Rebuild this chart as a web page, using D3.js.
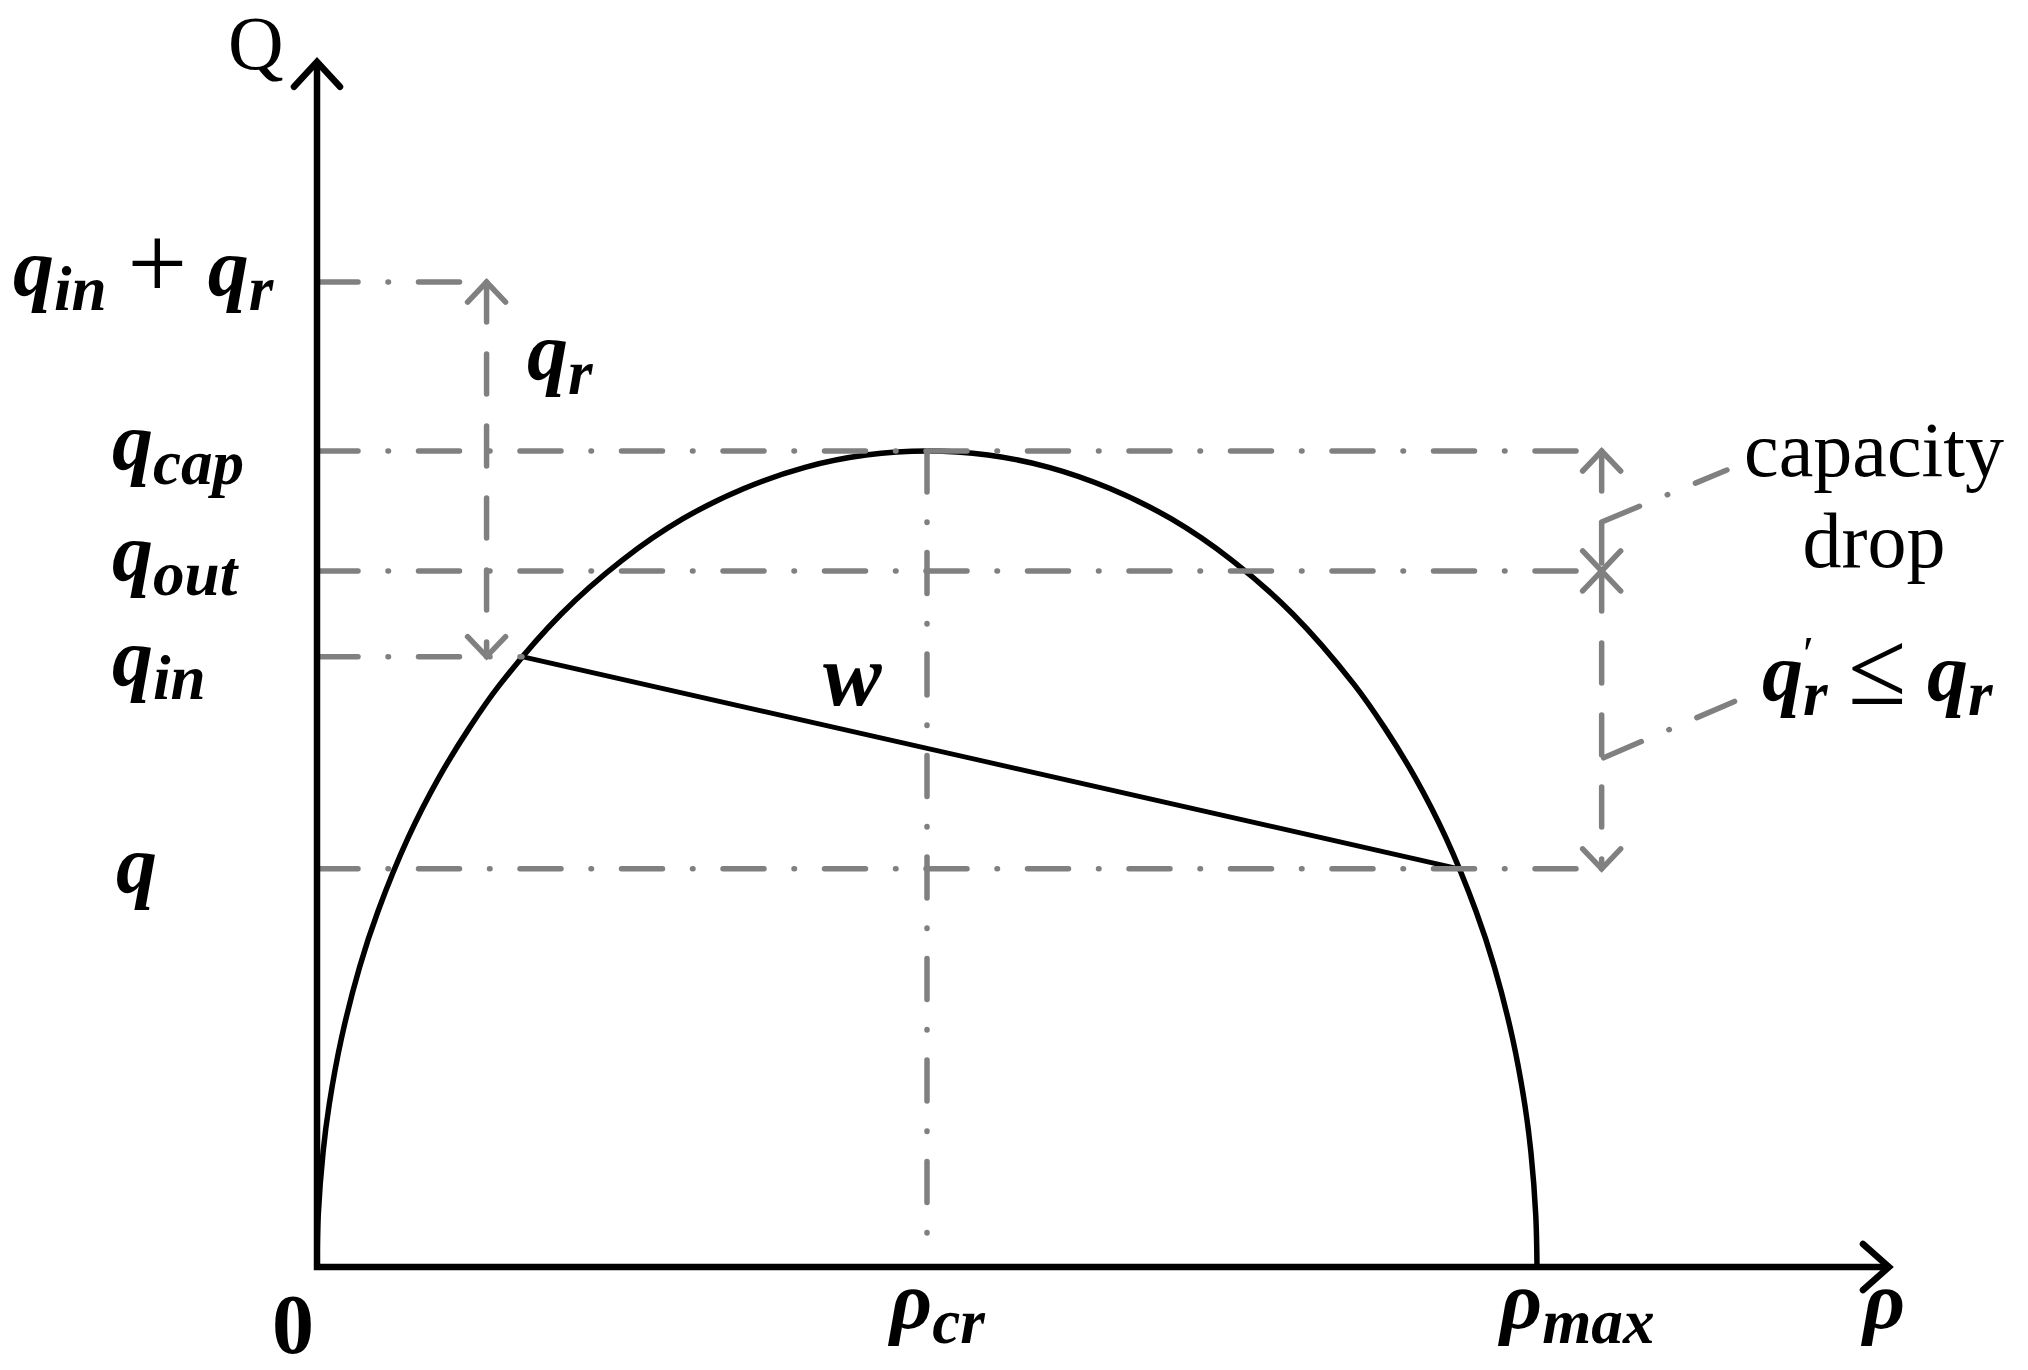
<!DOCTYPE html>
<html lang="en">

<head>
    <title>Flow-density diagram</title>
    <meta charset="UTF-8">
    <script src="https://cdn.jsdelivr.net/npm/d3@7"></script>
    <style>
        body {
            margin: 0;
            background: #fff;
        }

        svg {
            display: block;
        }

        text {
            font-family: "Liberation Serif", "Times New Roman", serif;
            white-space: pre;
        }
    </style>
</head>

<body>
    <div id="wrap"></div>
    <script>
        // flow-density curve (rho / rho_max , Q / q_cap)
        var curveRho = [0, 0.001, 0.005, 0.01, 0.02, 0.035, 0.05, 0.075, 0.1, 0.125, 0.15, 0.2, 0.25, 0.3, 0.35, 0.4, 0.45, 0.5,
            0.55, 0.6, 0.65, 0.7, 0.75, 0.8, 0.85, 0.875, 0.9, 0.925, 0.95, 0.965, 0.98, 0.99, 0.995, 0.999, 1
        ];
        var curveQ = [0, 0.063, 0.141, 0.199, 0.28, 0.368, 0.436, 0.527, 0.6, 0.661, 0.714, 0.8, 0.866, 0.917, 0.954, 0.98, 0.995, 1,
            0.995, 0.98, 0.954, 0.917, 0.866, 0.8, 0.714, 0.661, 0.6, 0.527, 0.436, 0.368, 0.28, 0.199, 0.141, 0.063, 0
        ];

        // flow levels on the Q axis
        var flowLabels = ['q_{in} + q_{r}', 'q_{cap}', 'q_{out}', 'q_{in}', 'q'];
        var flowValues = [1.207, 1.0, 0.853, 0.748, 0.488];

        // density marks on the rho axis
        var densityLabels = ['0', 'ρ_{cr}', 'ρ_{max}', 'ρ'];
        var densityValues = [0, 0.5, 1, 1.2885];

        // shock wave w : from q_in (left branch) to q (right branch)
        var waveRho = [0.168, 0.936];
        var waveQ = [0.748, 0.488];

        // where the arrows stand
        var qrArrowRho = 0.139;
        var dropArrowRho = 1.053;

        //常量
        var WIDTH = 2028,
            HEIGHT = 1370,
            RHOEND = 1.2885,
            QEND = 1.477,
            GREY = '#808080',
            DASHDOT = '41,30,0.5,30',
            DASH = '40,32',
            SIZE = 82;
        // small per-label nudges (layout only)
        var FLOWLABEL_X = [13, 112, 112, 112, 116];
        var FLOWLABEL_DY = [13, 18, 9, 28, 23];

        var x = d3.scaleLinear().domain([0, 1]).range([317, 1537]);
        var y = d3.scaleLinear().domain([0, 1]).range([1267, 451]);

        var svg = d3.select('#wrap').append('svg').attr('width', WIDTH).attr('height', HEIGHT);
        svg.append('rect').attr('width', WIDTH).attr('height', HEIGHT).attr('fill', '#fff');

        //曲线
        var curveData = curveRho.map(function(r, i) {
            return [r, curveQ[i]];
        });
        var line = d3.line()
            .x(function(d) { return x(d[0]); })
            .y(function(d) { return y(d[1]); })
            .curve(d3.curveCatmullRom.alpha(0.5));
        svg.append('path')
            .attr('d', line(curveData))
            .attr('fill', 'none')
            .attr('stroke', '#000')
            .attr('stroke-width', 5.5);

        // w line
        svg.append('line')
            .attr('x1', x(waveRho[0])).attr('y1', y(waveQ[0]))
            .attr('x2', x(waveRho[1])).attr('y2', y(waveQ[1]))
            .attr('stroke', '#000')
            .attr('stroke-width', 4.8);

        //辅助线
        var guideEnd = [qrArrowRho, dropArrowRho, dropArrowRho, waveRho[0], dropArrowRho];
        var guides = svg.append('g')
            .attr('stroke', GREY)
            .attr('stroke-width', 5.5)
            .attr('stroke-linecap', 'round')
            .attr('fill', 'none');
        guides.selectAll('line.h')
            .data(flowValues)
            .enter()
            .append('line')
            .attr('class', 'h')
            .attr('x1', x(0))
            .attr('x2', function(d, i) { return x(guideEnd[i]); })
            .attr('y1', function(d) { return y(d); })
            .attr('y2', function(d) { return y(d); })
            .attr('stroke-dasharray', DASHDOT);
        guides.append('line')
            .attr('x1', x(densityValues[1])).attr('x2', x(densityValues[1]))
            .attr('y1', y(1)).attr('y2', y(0) - 20)
            .attr('stroke-dasharray', DASHDOT);

        // leader lines to the notes
        guides.append('line')
            .attr('x1', x(dropArrowRho)).attr('y1', y(0.913))
            .attr('x2', x(1.1557)).attr('y2', y(0.9767))
            .attr('stroke-dasharray', DASHDOT);
        guides.append('line')
            .attr('x1', x(dropArrowRho) + 2).attr('y1', y(0.624))
            .attr('x2', x(1.1664)).attr('y2', y(0.696))
            .attr('stroke-dasharray', DASHDOT);

        //箭头
        function head(g, px, py, dir, w, h) {
            g.append('path')
                .attr('d', 'M' + (px - w) + ',' + (py + dir * h) + 'L' + px + ',' + py + 'L' + (px + w) + ',' + (py + dir * h));
        }

        function vArrow(rho, qTop, qBottom) {
            var px = x(rho);
            guides.append('line')
                .attr('x1', px).attr('x2', px)
                .attr('y1', y(qTop)).attr('y2', y(qBottom))
                .attr('stroke-dasharray', DASH);
            head(guides, px, y(qTop), 1, 19, 20);
            head(guides, px, y(qBottom), -1, 19, 20);
        }
        vArrow(qrArrowRho, flowValues[0], flowValues[3]);
        vArrow(dropArrowRho, flowValues[1], flowValues[2]);
        vArrow(dropArrowRho, flowValues[2], flowValues[4]);

        //坐标轴
        var axes = svg.append('g')
            .attr('stroke', '#000')
            .attr('stroke-width', 6.5)
            .attr('fill', 'none');
        axes.append('path')
            .attr('d', 'M' + x(0) + ',' + y(QEND) + 'L' + x(0) + ',' + y(0) + 'L' + x(RHOEND) + ',' + y(0))
            .attr('stroke-linejoin', 'miter');
        axes.append('path')
            .attr('stroke-linecap', 'round')
            .attr('d', 'M' + (x(0) - 23) + ',' + (y(QEND) + 25) + 'L' + x(0) + ',' + y(QEND) + 'L' + (x(0) + 23) + ',' + (y(QEND) + 25));
        axes.append('path')
            .attr('stroke-linecap', 'round')
            .attr('d', 'M' + (x(RHOEND) - 26) + ',' + (y(0) - 23) + 'L' + x(RHOEND) + ',' + y(0) + 'L' + (x(RHOEND) - 26) + ',' + (y(0) + 23));

        //公式文本
        function mathText(parent, px, py, src, size) {
            size = size || SIZE;
            var t = parent.append('text').attr('x', px).attr('y', py).attr('font-size', size);
            var tokens = src.match(/_\{[^}]*\}|\^\{[^}]*\}|[+≤]| +|[0-9]+|[^_^+≤ 0-9]+/g);
            var shift = 0,
                supW = 0;
            tokens.forEach(function(tok) {
                var span = t.append('tspan'),
                    target = 0;
                if (tok[0] === '_') {
                    target = size * 0.18;
                    span.text(tok.slice(2, -1))
                        .attr('font-size', size * 0.77)
                        .attr('font-weight', 'bold')
                        .attr('font-style', 'italic');
                } else if (tok[0] === '^') {
                    target = -size * 0.37;
                    span.text(tok.slice(2, -1)).attr('font-size', size * 0.6);
                } else if (tok === '+' || tok === '≤') {
                    target = size * 0.05;
                    span.text(tok).attr('font-size', size * 1.3);
                } else if (/^ +$/.test(tok)) {
                    span.text(tok);
                } else if (/^[0-9]+$/.test(tok)) {
                    span.text(tok).attr('font-weight', 'bold');
                } else {
                    span.text(tok).attr('font-weight', 'bold').attr('font-style', 'italic');
                }
                if (supW && tok[0] === '_') {
                    span.attr('dx', -supW);
                    supW = 0;
                }
                span.attr('dy', target - shift);
                shift = target;
                if (tok[0] === '^') supW = span.node().getComputedTextLength();
            });
            return t;
        }

        // Q axis labels
        var labels = svg.append('g').attr('fill', '#000');
        flowLabels.forEach(function(s, i) {
            mathText(labels, FLOWLABEL_X[i], y(flowValues[i]) + FLOWLABEL_DY[i], s);
        });
        // rho axis labels
        densityLabels.forEach(function(s, i) {
            var isZero = s === '0';
            var dx = isZero ? -45 : (i === densityLabels.length - 1 ? -26 : -37);
            mathText(labels, x(densityValues[i]) + dx, isZero ? 1353 : 1328, s, isZero ? 84 : SIZE);
        });

        labels.append('text').text('Q').attr('x', 228).attr('y', 69).attr('font-size', 77);
        mathText(labels, 527, 379, 'q_{r}');
        mathText(labels, 823, 705, 'w', 88);
        labels.append('text').text('capacity').attr('x', 1874).attr('y', 476)
            .attr('font-size', 78).attr('text-anchor', 'middle');
        labels.append('text').text('drop').attr('x', 1874).attr('y', 567)
            .attr('font-size', 78).attr('text-anchor', 'middle');
        mathText(labels, 1762, 700, 'q^{′}_{r} ≤ q_{r}');
    </script>

</body>

</html>
